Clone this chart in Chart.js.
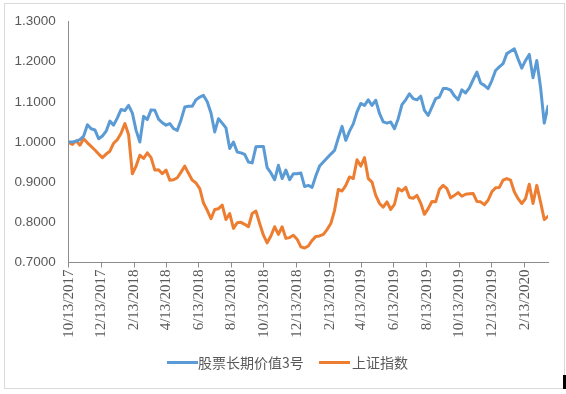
<!DOCTYPE html>
<html>
<head>
<meta charset="utf-8">
<script src="https://cdn.jsdelivr.net/npm/chart.js@4.4.0/dist/chart.umd.min.js"></script>
<style>
  body { margin: 0; background: #fff; }
  #wrap { position: relative; width: 566px; height: 394px; overflow: hidden; }
  #frame { position: absolute; left: 4px; top: 3px; width: 559px; height: 384px; border: 1px solid #d9d9d9; }
  #c { position: absolute; left: 0; top: 0; }
  .lg-line { position: absolute; top: 361px; width: 31px; height: 3px; }
  .lg-text { position: absolute; top: 352px; font: 14px "Noto Sans CJK SC", sans-serif; line-height: 20px; color: #595959; white-space: nowrap; }
  #mark { position: absolute; left: 563px; top: 375px; width: 3px; height: 14px; background: #000; }
</style>
</head>
<body>
<div id="wrap">
  <div id="frame"></div>
  <canvas id="c" width="566" height="394"></canvas>
  <div class="lg-line" style="left:167px;background:#5b9bd5"></div>
  <div class="lg-text" style="left:198px">股票长期价值3号</div>
  <div class="lg-line" style="left:319px;background:#ed7d31"></div>
  <div class="lg-text" style="left:352px">上证指数</div>
  <div id="mark"></div>
</div>
<script>
// weekly net values, first week 10/13/2017
const startDate = '2017-10-13';
const seriesNames = ['股票长期价值3号', '上证指数'];
const fundValues = [
  1.000, 1.000, 1.002, 1.006, 1.015, 1.043, 1.033, 1.030, 1.008, 1.015,
  1.027, 1.052, 1.042, 1.060, 1.081, 1.078, 1.091, 1.072, 1.029, 1.000,
  1.064, 1.056, 1.080, 1.079, 1.057, 1.048, 1.042, 1.046, 1.033, 1.029,
  1.055, 1.087, 1.089, 1.089, 1.105, 1.112, 1.116, 1.100, 1.072, 1.025,
  1.058, 1.047, 1.035, 0.984, 1.000, 0.975, 0.973, 0.969, 0.950, 0.948,
  0.988, 0.989, 0.989, 0.936, 0.923, 0.906, 0.942, 0.909, 0.930, 0.906,
  0.921, 0.921, 0.923, 0.889, 0.892, 0.887, 0.916, 0.940, 0.950, 0.960,
  0.970, 0.979, 1.010, 1.039, 1.004, 1.027, 1.045, 1.075, 1.096, 1.091,
  1.105, 1.091, 1.104, 1.071, 1.050, 1.047, 1.050, 1.033, 1.058, 1.093,
  1.105, 1.120, 1.108, 1.105, 1.114, 1.079, 1.066, 1.087, 1.108, 1.112,
  1.133, 1.133, 1.129, 1.115, 1.105, 1.130, 1.122, 1.135, 1.155, 1.174,
  1.147, 1.141, 1.133, 1.153, 1.178, 1.187, 1.195, 1.220, 1.226, 1.232,
  1.207, 1.184, 1.203, 1.218, 1.160, 1.203, 1.137, 1.047, 1.089
];
const indexValues = [
  0.999, 0.994, 1.003, 0.992, 1.008, 0.998, 0.989, 0.980, 0.970, 0.961,
  0.970, 0.977, 0.997, 1.006, 1.022, 1.046, 1.018, 0.921, 0.940, 0.967,
  0.959, 0.973, 0.961, 0.930, 0.931, 0.921, 0.930, 0.905, 0.906, 0.911,
  0.925, 0.940, 0.922, 0.905, 0.898, 0.884, 0.848, 0.830, 0.809, 0.832,
  0.834, 0.843, 0.807, 0.822, 0.785, 0.799, 0.800, 0.795, 0.789, 0.822,
  0.828, 0.797, 0.768, 0.749, 0.766, 0.789, 0.770, 0.789, 0.760, 0.762,
  0.768, 0.758, 0.739, 0.736, 0.741, 0.755, 0.765, 0.766, 0.770, 0.782,
  0.797, 0.830, 0.882, 0.878, 0.892, 0.913, 0.909, 0.956, 0.940, 0.961,
  0.909, 0.900, 0.867, 0.847, 0.838, 0.851, 0.832, 0.845, 0.884, 0.878,
  0.887, 0.862, 0.860, 0.867, 0.848, 0.820, 0.834, 0.852, 0.851, 0.882,
  0.892, 0.884, 0.861, 0.867, 0.874, 0.865, 0.870, 0.871, 0.872, 0.852,
  0.851, 0.844, 0.855, 0.876, 0.886, 0.887, 0.905, 0.909, 0.905, 0.876,
  0.859, 0.847, 0.859, 0.895, 0.847, 0.892, 0.851, 0.807, 0.815
];
const tickDates = [
  '2017-10-13', '2017-12-13', '2018-02-13', '2018-04-13', '2018-06-13',
  '2018-08-13', '2018-10-13', '2018-12-13', '2019-02-13', '2019-04-13',
  '2019-06-13', '2019-08-13', '2019-10-13', '2019-12-13', '2020-02-13'
];
const yTicks = [0.7, 0.8, 0.9, 1.0, 1.1, 1.2, 1.3];

const DAY = 86400000;
const t0 = Date.parse(startDate);
const dayOf = s => Math.round((Date.parse(s) - t0) / DAY);
const toPoints = vals => vals.map((v, i) => ({ x: i * 7, y: v }));
const lastDay = (fundValues.length - 1) * 7;

function fmtDate(day) {
  const d = new Date(t0 + day * DAY);
  return (d.getUTCMonth() + 1) + '/' + d.getUTCDate() + '/' + d.getUTCFullYear();
}

new Chart(document.getElementById('c'), {
  type: 'line',
  data: {
    datasets: [
      { label: seriesNames[0], data: toPoints(fundValues), borderColor: '#5b9bd5', backgroundColor: '#5b9bd5' },
      { label: seriesNames[1], data: toPoints(indexValues), borderColor: '#ed7d31', backgroundColor: '#ed7d31' }
    ]
  },
  options: {
    responsive: false,
    animation: false,
    layout: { padding: { left: 0, right: 18, top: 21.5, bottom: 0 } },
    elements: {
      point: { radius: 0 },
      line: { borderWidth: 3, tension: 0, borderJoinStyle: 'round', borderCapStyle: 'round' }
    },
    plugins: { legend: { display: false }, tooltip: { enabled: false } },
    scales: {
      x: {
        type: 'linear',
        min: 0,
        max: lastDay,
        afterBuildTicks(scale) { scale.ticks = tickDates.map(s => ({ value: dayOf(s) })); },
        afterFit(scale) { scale.height = 131.5; },
        grid: { drawOnChartArea: false, drawTicks: true, tickLength: 5, color: '#8c8c8c' },
        border: { color: '#8c8c8c', width: 1 },
        ticks: {
          minRotation: 90, maxRotation: 90, autoSkip: false, padding: 2,
          color: '#595959', font: { family: 'Liberation Serif', size: 15 },
          callback: v => fmtDate(v)
        }
      },
      y: {
        min: 0.7,
        max: 1.3,
        afterBuildTicks(scale) { scale.ticks = yTicks.map(v => ({ value: v })); },
        afterFit(scale) { scale.width = 68.7; },
        grid: { display: false, drawTicks: false },
        border: { color: '#8c8c8c', width: 1 },
        ticks: {
          padding: 13, color: '#595959', font: { family: 'Liberation Sans', size: 13.5 },
          callback: v => v.toFixed(4)
        }
      }
    }
  }
});
</script>
</body>
</html>
